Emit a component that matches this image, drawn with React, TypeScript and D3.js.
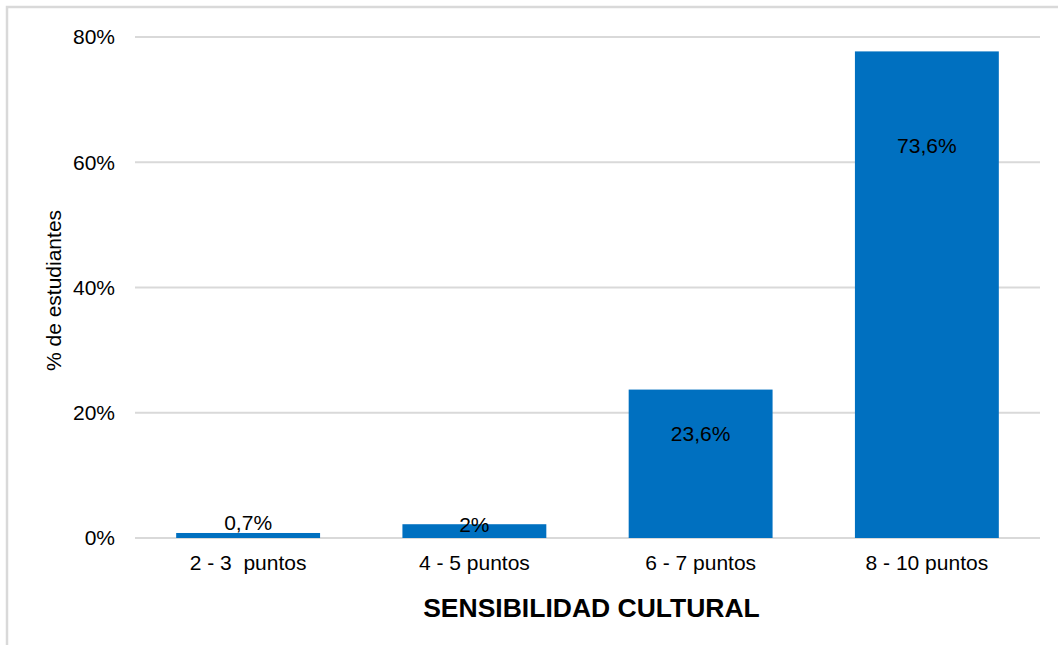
import React from "react";
import * as d3 from "d3";

const categories = ["2 - 3  puntos", "4 - 5 puntos", "6 - 7 puntos", "8 - 10 puntos"];
const barValues = [0.8, 2.2, 23.7, 77.7];
const labelTexts = ["0,7%", "2%", "23,6%", "73,6%"];
const labelAnchors = [2.5, 2.15, 16.6, 62.6];
const yTicks = [0, 20, 40, 60, 80];
const yTitle = "% de estudiantes";
const xTitle = "SENSIBILIDAD CULTURAL";

const W = 1058;
const H = 645;
const M = { left: 135, right: 1040, top: 37, bottom: 538 };
const FONT = "'Liberation Sans', Arial, Helvetica, sans-serif";

export default function App() {
  const x = d3.scaleBand<string>().domain(categories).range([M.left, M.right]).paddingInner(0.364).paddingOuter(0.182);
  const y = d3.scaleLinear().domain([0, 80]).range([M.bottom, M.top]);
  return (
    <svg width={W} height={H} style={{ position: "absolute", left: 0, top: 0, background: "#fff" }} fontFamily={FONT}>
      <rect x={7} y={7} width={1070} height={660} fill="none" stroke="#d9d9d9" strokeWidth={2.5} />
      {yTicks.map((t) => (
        <g key={t}>
          <line x1={M.left} x2={M.right} y1={y(t)} y2={y(t)} stroke="#d9d9d9" strokeWidth={2} />
          <text x={115} y={y(t)} dy="0.35em" textAnchor="end" fontSize={21} fill="#000">{t}%</text>
        </g>
      ))}
      {categories.map((c, i) => (
        <rect key={c} x={x(c)} y={y(barValues[i])} width={x.bandwidth()} height={y(0) - y(barValues[i])} fill="#0070C0" />
      ))}
      {categories.map((c, i) => (
        <text key={"l" + c} x={(x(c) as number) + x.bandwidth() / 2} y={y(labelAnchors[i])} dy="0.35em" textAnchor="middle" fontSize={21} fill="#000">{labelTexts[i]}</text>
      ))}
      {categories.map((c) => (
        <text key={"c" + c} x={(x(c) as number) + x.bandwidth() / 2} y={563} dy="0.35em" textAnchor="middle" fontSize={21} fill="#000" style={{ whiteSpace: "pre" }}>{c}</text>
      ))}
      <text transform={`translate(54,${(M.top + M.bottom) / 2 + 3}) rotate(-90)`} dy="0.35em" textAnchor="middle" fontSize={21} fill="#000">{yTitle}</text>
      <text x={(M.left + M.right) / 2 + 4} y={608} dy="0.35em" textAnchor="middle" fontSize={26.5} fontWeight="bold" fill="#000">{xTitle}</text>
    </svg>
  );
}
